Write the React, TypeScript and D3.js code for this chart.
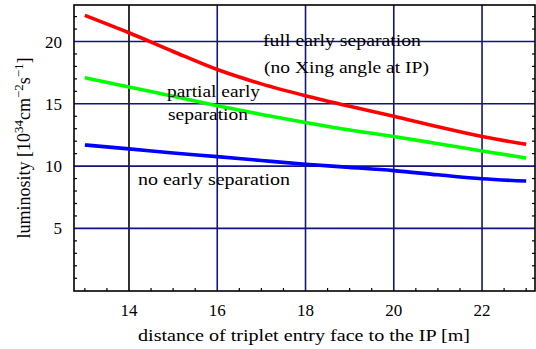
import React from "react";
import * as d3 from "d3";

const distances = [13, 14, 15, 16, 17, 18, 19, 20, 21, 22, 23];
const fullEarly = [22.1, 20.7, 19.2, 17.75, 16.6, 15.65, 14.8, 14.0, 13.15, 12.37, 11.75];
const partialEarly = [17.1, 16.35, 15.6, 14.85, 14.15, 13.5, 12.9, 12.37, 11.8, 11.22, 10.65];
const noEarly = [11.7, 11.38, 11.05, 10.76, 10.45, 10.15, 9.9, 9.64, 9.3, 8.98, 8.8];
const xTicks = [14, 16, 18, 20, 22];
const yTicks = [5, 10, 15, 20];

const W = 536, H = 349;
const L = 74, R = 535, T = 5, B = 291;
const FONT = "Liberation Serif";
const NAVY = "#14147f";
const fs = (size: number) => ({ fontFamily: FONT, fontSize: size + "px" });

export default function App() {
  const x = d3.scaleLinear().domain([12.754, 23.2]).range([L, R]);
  const y = d3.scaleLinear().domain([0, 22.93]).range([290.7, T]);
  const line = d3.line<number>().x((_, i) => x(distances[i])).y((d) => y(d)).curve(d3.curveMonotoneX);

  const xMinor = d3.range(13, 23.01, 0.5).filter((v) => !xTicks.includes(v));
  const yMinor = d3.range(1, 23, 1).filter((v) => !yTicks.includes(v));

  const series = [
    { vals: fullEarly, color: "#ff0000" },
    { vals: partialEarly, color: "#00ff00" },
    { vals: noEarly, color: "#0000ff" },
  ];

  return (
    <svg width={W} height={H} style={{ position: "absolute", left: 0, top: 0, background: "#fff", fontFamily: FONT }}>
      <rect x={0} y={0} width={W} height={H} fill="#fff" />
      {xTicks.map((t) => (
        <line key={"gx" + t} x1={x(t)} x2={x(t)} y1={T} y2={B} stroke={t === 14 ? "#000" : NAVY} strokeWidth={1.6} />
      ))}
      {yTicks.map((t) => (
        <line key={"gy" + t} x1={L} x2={R} y1={y(t)} y2={y(t)} stroke={NAVY} strokeWidth={1.6} />
      ))}
      {xMinor.map((t) => (
        <line key={"mx" + t} x1={x(t)} x2={x(t)} y1={B} y2={B - 3} stroke="#000" strokeWidth={1.2} />
      ))}
      {yMinor.map((t) => (
        <g key={"my" + t}>
          <line x1={L} x2={L + 3} y1={y(t)} y2={y(t)} stroke="#000" strokeWidth={1.2} />
          <line x1={R} x2={R - 3} y1={y(t)} y2={y(t)} stroke="#000" strokeWidth={1.2} />
        </g>
      ))}
      {series.map((s, i) => (
        <path key={i} d={line(s.vals) || ""} fill="none" stroke={s.color} strokeWidth={3.6} />
      ))}
      <rect x={L} y={T} width={R - L} height={B - T} fill="none" stroke="#000" strokeWidth={1.6} />
      {xTicks.map((t) => (
        <text key={"tx" + t} x={x(t)} y={316} textAnchor="middle" style={fs(17)}>
          {t}
        </text>
      ))}
      {yTicks.map((t) => (
        <text key={"ty" + t} x={62} y={y(t) + 6} textAnchor="end" style={fs(17)}>
          {t}
        </text>
      ))}
      <text x={263} y={46} style={fs(16)} textLength={158} lengthAdjust="spacingAndGlyphs">
        full early separation
      </text>
      <text x={264} y={73} style={fs(16)} textLength={165} lengthAdjust="spacingAndGlyphs">
        (no Xing angle at IP)
      </text>
      <text x={167} y={97} style={fs(16)} textLength={93} lengthAdjust="spacingAndGlyphs">
        partial early
      </text>
      <text x={168} y={120} style={fs(16)} textLength={80} lengthAdjust="spacingAndGlyphs">
        separation
      </text>
      <text x={138} y={185} style={fs(16)} textLength={152} lengthAdjust="spacingAndGlyphs">
        no early separation
      </text>
      <text x={138} y={341} style={fs(16)} textLength={332} lengthAdjust="spacingAndGlyphs">
        distance of triplet entry face  to the IP [m]
      </text>
      <g transform={`translate(30,148) rotate(-90)`}>
        <text x={0} y={0} textAnchor="middle" style={fs(18)}>
          <tspan>luminosity [10</tspan>
          <tspan style={{ fontSize: "13px" }} dy={-7}>34</tspan>
          <tspan dy={7}>cm</tspan>
          <tspan style={{ fontSize: "13px" }} dy={-7}>−2</tspan>
          <tspan dy={7}>s</tspan>
          <tspan style={{ fontSize: "13px" }} dy={-7}>−1</tspan>
          <tspan dy={7}>]</tspan>
        </text>
      </g>
    </svg>
  );
}
